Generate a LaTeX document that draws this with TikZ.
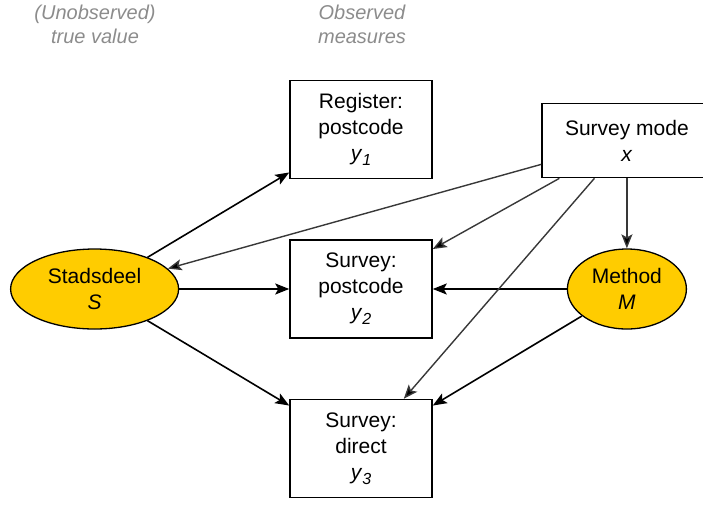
\documentclass[tikz,border=0pt]{standalone}
\usepackage{fontspec}
\setmainfont{Liberation Sans}
\usetikzlibrary{shapes.geometric, positioning, arrows.meta}
\definecolor{stadsgeel}{HTML}{FFCC00}
\definecolor{pijlgrijs}{HTML}{383838}
\definecolor{kopgrijs}{HTML}{8C8C8C}
\newcommand{\ymeas}[1]{\textit{y}\raisebox{-0.45ex}{\fontsize{16}{16}\selectfont\textit{#1}}} % y with a low subscript
\tikzset{
x=1pt, y=-1pt, % one unit is one pixel of the sketch
>={Stealth[length=14pt,width=11pt,inset=3pt]}, % big filled arrow heads
measure/.style={draw, line width=1.5pt, minimum width=142pt, minimum height=98pt, inner sep=0pt, align=center}, % observed measures
latent/.style={ellipse, draw, line width=1.3pt, fill=stadsgeel, inner sep=0pt, align=center}, % yellow ellipses
heading/.style={text=kopgrijs, align=center, font=\fontsize{20}{24}\selectfont\itshape}, % grey column titles
}

\begin{document}
\begin{tikzpicture}[->, auto, font=\fontsize{21}{26}\selectfont]
\useasboundingbox (0,0) rectangle (703,504);
\node[heading] (unobs) at (95,24) {(Unobserved)\\true value};
\node[heading] (obs) at (362,24) {Observed\\measures};
\node[measure] (y2) at (361,289) {Survey:\\postcode\\\ymeas{2}};
\node[measure] (y1) [above=60pt of y2] {Register:\\postcode\\\ymeas{1}};
\node[measure] (y3) [below=60pt of y2] {Survey:\\direct\\\ymeas{3}};
\node[latent, minimum width=168pt, minimum height=80pt] (S) [left=110pt of y2] {Stadsdeel\\\textit{S}};
\node[latent, minimum width=119pt, minimum height=80pt] (M) [right=134pt of y2] {Method\\\textit{M}};
\node[draw, line width=1.5pt, minimum width=170pt, minimum height=74pt, inner sep=0pt, align=center] (x) [above=70pt of M] {Survey mode\\\textit{x}};
\path[line width=1.6pt] (S) edge (y1)
edge (y2)
edge (y3)
(M) edge (y2)
edge (y3);
\path[line width=1.4pt, draw=pijlgrijs] (x) edge (S)
edge (y2)
edge (y3)
edge (M);
\end{tikzpicture}
\end{document}
